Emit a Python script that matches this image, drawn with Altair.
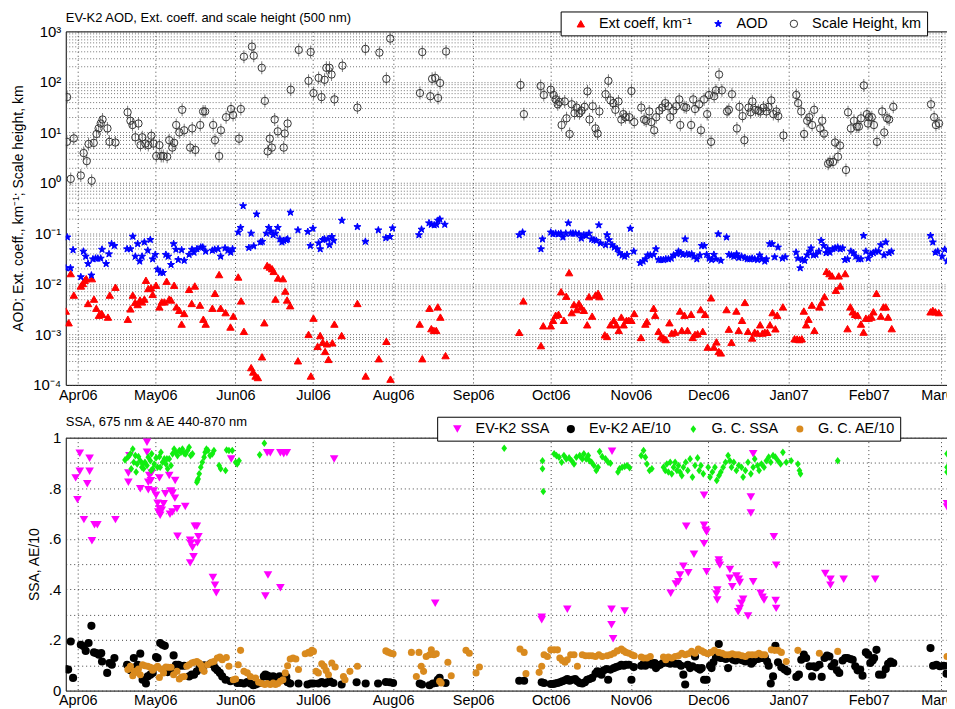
import altair as alt
import pandas as pd

FONT = "Liberation Sans"
BASE = pd.Timestamp("2006-04-01")

# ---------------- data (day offset from 2006-04-01, value) ----------------
SH = [(-4.1,50),(-4.2,6.5),(-2.7,1.2),(-1.5,7.6),(1.2,1.4),(2.3,3.9),(3.5,2.7),(4.2,5.9),(5.4,1.1),(6.2,6.2),
      (7.3,9.3),(8.1,12),(8.9,15),(9.6,18),(11.5,12),(12.3,6.5),(14.6,6.3),(19.3,25),(20.4,17),(21.2,14),
      (22.3,8),(23.5,15),(24.3,5.6),(25,8),(26.2,6),(27.3,5.6),(28.5,8.6),(29.3,6),(30.4,3.4),(31.6,5.6),
      (32.3,3.4),(33.1,3.4),(34.6,3.3),(35.4,7),(36.6,5),(37.3,6.2),(38.1,14),(39.3,10),(40.4,28),(41.2,11),
      (43.5,5),(44.3,12),(45.5,4.5),(47.4,14),(48.5,26),(49.3,26),(52.4,14),(53.1,7),(54.7,3.4),(55.4,11),
      (57.4,20),(59.3,29),(60.1,22),(62.4,7.5),(63.1,29),(64.3,315),(67.4,500),(68.1,330),(71.2,190),(72.4,42),
      (73.5,4.2),(74.3,7.5),(75.1,5),(76.2,18),(77.4,10.5),(79.7,5),(80.1,9.5),(81.2,15),(82.4,70),(85.5,430),
      (89.3,105),(90.1,390),(91.2,60),(93.2,120),(94.3,50),(95.5,110),(96.2,190),(97.4,190),(98.2,140),(99.3,45),
      (102.4,210),(108.2,31),(111.3,450),(116.7,380),(119.4,115),(120.9,720),(132.4,60),(133.3,390),(136.4,52),
      (137.1,115),(138.3,120),(139.4,48),(140.2,95),(142.5,400),
      (171.3,87),(172.6,23),(179.1,83),(180.3,55),(183,70),(184.1,55),(184.9,45),(185.7,36),(186.4,40),(187.2,14),
      (188.4,41),(189.1,19),(190.3,9.3),(191.1,36),(192.2,24),(193,31),(194.1,24),(194.9,27),(196.1,32),(197.2,65),
      (198,18),(199.2,33),(200.3,12),(201.1,9.5),(201.8,26),(204.2,57),(205.3,105),(206.1,43),(207.2,38),(208,28),
      (209.2,41),(210.3,18),(211.1,23),(211.9,20),(213.4,20),(214.2,66),(215.3,16),(218,31),(219.1,18),(219.9,17),
      (221.1,26),(221.9,16),(223,11),(223.8,20),(225,27),(226.1,31),(227.3,38),(228.4,33),(229.2,20),(230.4,27),
      (231.5,33),(232.7,45),(233.1,14),(234.6,32),(235.4,31),(237.3,14),(238.1,45),(238.8,29),(240.4,36),(241.1,11),
      (242.3,45),(243.5,23),(244.2,55),(245,6.5),(246.2,52),(246.9,68),(248.1,140),(249.2,68),(251.2,26),(251.9,28),
      (253.1,57),(255,12),(256,32),(257.2,21),(257.9,7),(259.5,31),(260.3,25),(261,41),(262.2,28),(263.3,27),
      (264.1,26),(265.3,31),(266.4,26),(267.2,32),(268.3,43),(269.1,23),(270.3,26),(271,21),(273,8.7),(278,55),
      (278.7,38),(279.9,26),(281,9.3),(282.2,17),(283,20),(284.1,14),(284.9,28),(287.2,12),(288,17),(288.7,9.5),
      (290.3,2.4),(291,2.6),(292.2,2.6),(293,6.3),(294.1,3.3),(294.9,5.5),(297.2,1.8),(298,25),(299.1,12),(300.3,17),
      (301.4,13),(302.2,13),(303,19),(304.1,85),(305.3,23),(305.7,15),(306.1,20),(307.2,20),(308,14),(309.2,6.5),
      (311.2,26),(312,10),(313.1,19),(313.9,18),(315.5,32),(330.1,36),(331.3,20),(332,14),(333.2,15)]

AOD = [(-4.6,.0206),(-4.0,.084),(-2.8,.0206),(-1.8,.047),(1.2,.0137),(2.2,.044),(3.1,.035),(4.0,.025),(5.3,.0148),
       (5.9,.031),(6.9,.032),(7.8,.032),(8.9,.032),(9.4,.048),(11.0,.025),(12.1,.039),(13.1,.062),(14.2,.057),
       (19.1,.049),(20.4,.049),(21.3,.087),(22.3,.035),(23.2,.062),(24.0,.028),(24.9,.035),(25.8,.067),(27.1,.046),
       (28.1,.075),(29.0,.031),(30.0,.038),(30.9,.0194),(32.0,.0167),(33.0,.0167),(34.1,.038),(35.0,.035),(36.1,.024),
       (37.1,.062),(38.0,.048),(38.9,.030),(40.2,.047),(41.2,.029),(43.1,.038),(44.2,.048),(45.0,.042),(46.1,.049),
       (47.6,.053),(48.4,.053),(49.5,.044),(52.1,.046),(53.0,.048),(54.3,.049),(55.3,.035),(57.0,.051),(58.1,.046),
       (59.2,.042),(59.9,.049),(62.1,.105),(63.0,.13),(64.0,.35),(66.2,.052),(67.1,.10),(68.1,.056),(69.2,.24),
       (70.7,.067),(71.4,.069),(73.0,.10),(73.9,.13),(74.8,.11),(75.6,.093),(76.5,.10),(77.4,.13),(78.2,.077),
       (79.0,.067),(79.7,.072),(80.7,.074),(81.2,.077),(82.3,.26),(85.2,.116),(89.0,.108),(90.0,.057),(91.0,.125),
       (93.2,.064),(93.8,.049),(94.8,.075),(95.5,.077),(96.8,.077),(97.4,.059),(98.3,.086),(99.0,.072),(102.2,.18),
       (108.2,.135),(111.3,.069),(116.3,.116),(119.2,.081),(120.8,.086),(121.8,.127),(132.0,.093),(133.0,.12),
       (135.9,.16),(136.8,.15),(137.9,.146),(138.8,.15),(139.4,.18),(140.1,.19),(142.0,.15),
       (170.8,.093),(172.1,.105),(179.2,.049),(179.8,.077),(183.0,.105),(183.9,.097),(184.9,.10),(186.0,.097),
       (186.9,.10),(187.7,.084),(188.8,.10),(189.8,.16),(190.7,.10),(191.6,.10),(192.6,.10),(193.9,.097),(194.8,.08),
       (195.8,.093),(196.7,.09),(197.8,.10),(198.8,.077),(199.7,.074),(200.6,.072),(201.6,.146),(202.2,.064),
       (204.2,.059),(204.8,.093),(205.5,.074),(206.7,.059),(207.6,.053),(208.7,.049),(209.6,.041),(210.6,.037),
       (211.6,.035),(212.5,.038),(213.8,.125),(215.1,.044),(217.6,.026),(218.7,.028),(219.6,.031),(220.5,.037),
       (221.5,.037),(222.8,.038),(223.7,.049),(224.7,.030),(225.6,.030),(226.6,.030),(227.5,.031),(228.5,.031),
       (229.6,.032),(230.5,.037),(231.8,.039),(232.4,.044),(233.3,.041),(234.1,.038),(235.0,.077),(235.6,.039),
       (236.5,.038),(237.5,.039),(238.4,.035),(239.5,.031),(240.7,.037),(241.4,.057),(242.4,.057),(243.3,.038),
       (244.3,.032),(245.2,.030),(246.1,.038),(246.9,.031),(247.8,.097),(248.8,.029),(251.0,.084),(251.9,.038),
       (252.9,.037),(253.8,.035),(254.9,.039),(255.7,.033),(256.8,.035),(258.1,.033),(259.0,.031),(260.0,.031),
       (260.9,.032),(261.9,.031),(263.0,.030),(263.8,.037),(264.7,.031),(265.8,.028),(266.4,.031),(267.7,.062),
       (268.6,.062),(269.6,.034),(270.9,.053),(272.6,.032),(273.7,.034),(277.9,.042),(278.6,.032),(279.5,.0206),
       (280.3,.030),(281.2,.029),(282.2,.037),(283.1,.044),(283.7,.051),(284.6,.037),(285.6,.038),(286.7,.044),
       (287.6,.072),(288.6,.057),(289.5,.041),(290.1,.049),(291.0,.042),(292.1,.049),(293.0,.051),(294.0,.053),
       (295.0,.049),(295.9,.051),(296.8,.030),(297.8,.031),(299.1,.044),(300.1,.041),(301.0,.035),(302.1,.031),
       (303.0,.031),(304.0,.09),(304.9,.044),(305.8,.032),(306.8,.039),(307.8,.041),(308.7,.044),(309.8,.044),
       (310.7,.059),(311.9,.037),(312.6,.067),(313.9,.041),(314.8,.044),(329.9,.09),(330.8,.067),(331.8,.042),
       (332.7,.044),(334.4,.035),(335.4,.048),(336.3,.028),(337.2,.029),(338.2,.030)]

EXT = [(-4.6,.0029),(-3.5,.0017),(-2.7,.016),(-1.5,.006),(1.2,.0091),(2.0,.0102),(2.7,.0118),(3.3,.0127),(4.0,.0041),
       (5.5,.0127),(6.3,.005),(7.2,.0033),(8.2,.0024),(9.1,.0026),(9.5,.0025),(11.7,.0022),(12.4,.006),(14.6,.0086),
       (19.4,.002),(20.4,.0032),(21.3,.006),(22.2,.0043),(23.2,.0039),(24.1,.0048),(24.9,.0044),(25.8,.005),
       (26.4,.0118),(27.3,.0081),(28.4,.0084),(29.0,.0062),(30.3,.0094),(31.6,.0035),(32.5,.0044),(33.5,.0044),
       (34.4,.0113),(35.4,.005),(36.1,.0048),(37.3,.0094),(38.2,.0035),(39.3,.003),(40.2,.0016),(41.2,.0026),
       (43.1,.0078),(44.1,.0041),(45.3,.0091),(47.3,.0038),(48.6,.002),(49.5,.0016),(52.1,.0033),(53.1,.0065),
       (54.7,.0153),(55.3,.0033),(57.2,.0027),(59.1,.0014),(60.2,.0023),(62.1,.0137),(63.2,.0046),(64.3,.00115),
       (67.1,.00022),(67.9,.00018),(68.8,.00015),(69.7,.00014),(72.2,.0017),(71.3,.00036),(73.3,.0232),(74.3,.0216),
       (75.2,.02),(75.8,.0177),(76.5,.005),(77.5,.0131),(79.4,.0127),(80.3,.0072),(81.0,.0048),(82.2,.0037),
       (85.2,.0003),(89.3,.001),(90.2,.00015),(91.2,.0021),(92.8,.00058),(93.8,.00095),(94.8,.0007),(95.7,.00046),
       (96.4,.00065),(97.0,.00032),(98.5,.00068),(99.3,.0016),(102.1,.00095),(108.2,.0041),(111.4,.00015),
       (116.5,.00033),(119.4,.00073),(121.0,.00013),(132.3,.0016),(133.3,.00033),(136.1,.0033),(136.8,.0013),
       (137.8,.0012),(138.7,.0012),(139.3,.0035),(140.3,.0022),(142.3,.00038),
       (170.8,.0011),(172.4,.0046),(179.2,.0006),(180.1,.00148),(183.0,.00148),(183.9,.0019),(184.9,.0024),
       (186.0,.0025),(187.0,.007),(188.1,.0019),(189.0,.0057),(190.1,.0167),(191.1,.0027),(192.0,.0039),(193.0,.0031),
       (193.9,.0041),(194.7,.0035),(195.8,.003),(197.1,.00155),(197.8,.0056),(199.0,.0023),(200.3,.006),(201.3,.0065),
       (201.9,.0056),(203.9,.00098),(204.8,.00091),(206.1,.00155),(207.4,.0019),(208.4,.00155),(209.3,.0012),
       (210.3,.0022),(211.2,.00155),(212.3,.0019),(213.2,.0019),(214.2,.0019),(215.3,.0026),(217.9,.00087),
       (219.6,.0016),(220.2,.0018),(222.8,.0033),(223.4,.0024),(224.7,.00115),(225.7,.00091),(226.6,.00085),
       (227.5,.00079),(228.9,.0017),(229.8,.00106),(231.1,.00111),(233.0,.0029),(233.7,.0012),(234.7,.0024),
       (235.9,.0012),(237.3,.0025),(237.9,.00087),(238.8,.001),(239.8,.00103),(241.0,.0031),(241.8,.00115),
       (242.7,.0025),(243.7,.00056),(245.0,.0053),(246.1,.00056),(247.1,.00071),(248.0,.00046),(248.8,.00043),
       (251.0,.0031),(251.9,.00127),(252.9,.0007),(254.8,.0029),(255.7,.0012),(257.0,.0019),(258.1,.0043),
       (259.3,.00115),(260.9,.00085),(261.9,.00111),(263.0,.00106),(264.0,.00155),(264.9,.00106),(265.8,.00111),
       (266.8,.0011),(267.8,.00155),(268.8,.0027),(269.9,.00129),(270.6,.0024),(272.8,.0035),(277.3,.00082),
       (278.3,.00081),(279.2,.00079),(280.1,.00082),(280.9,.0029),(281.8,.00155),(282.7,.002),(284.0,.0038),
       (285.0,.0012),(286.9,.0035),(287.8,.0043),(288.9,.0056),(289.7,.0177),(290.8,.016),(291.8,.0144),(293.3,.0075),
       (294.4,.0144),(295.0,.0091),(296.9,.016),(297.8,.0013),(298.9,.0035),(299.8,.0028),(300.7,.0025),(301.7,.0024),
       (303.0,.0016),(304.0,.00111),(304.9,.0021),(306.0,.0021),(307.1,.0022),(307.8,.0028),(309.0,.0065),
       (310.7,.0023),(311.7,.0035),(312.6,.0035),(313.5,.0022),(314.9,.0013),(329.9,.0028),(330.8,.003),
       (331.8,.0028),(333.1,.0027)]

SSA_EV = [(-0.8,.841),(-0.1,.755),(0.8,.867),(0.8,.938),(2.4,.676),(3.7,.818),(4.6,.867),(4.6,.919),(5.5,.592),
          (6.5,.656),(7.6,.656),(14.6,.676),(19.6,.86),(19.6,.824),(20.0,.929),(24.2,.798),(26.8,.982),(26.8,.942),
          (27.3,.824),(27.3,.794),(27.7,.85),(28.3,.83),(28.6,.86),(29.4,.789),(30.3,.772),(30.9,.741),(31.2,.706),
          (31.6,.719),(31.9,.693),(32.5,.713),(33.2,.739),(33.9,.778),(31.6,.841),(35.4,.85),(35.7,.697),(36.0,.789),
          (36.7,.706),(36.7,.781),(37.6,.761),(37.7,.831),(38.4,.719),(38.6,.61),(41.6,.728),(45.3,.65),(46.1,.65),
          (46.7,.608),(43.5,.594),(43.7,.581),(44.4,.566),(44.8,.529),(43.5,.505),(46.3,.584),(52.3,.447),(53.1,.417),
          (53.6,.387),(59.4,.916),(72.6,.374),(73.6,.457),(73.3,.94),(74.5,.94),(78.4,.407),(78.4,.94),(79.7,.936),
          (80.9,.94),(99.2,.916),(138.3,.345),
          (179.5,.29),(179.5,.28),(189.4,.322),(206.5,.322),(206.5,.26),(207.1,.205),(206.7,.946),(211.6,.315),
          (229.4,.385),(231.4,.421),(232.4,.43),(233.0,.457),(234.3,.492),(235.4,.65),(236.2,.466),(238.4,.539),
          (242.3,.772),(242.3,.654),(242.9,.634),(243.3,.627),(242.3,.581),(243.3,.47),(247.1,.382),(247.4,.398),
          (247.4,.358),(248.0,.516),(248.0,.505),(248.4,.496),(252.3,.479),(252.3,.444),(253.2,.411),(254.8,.453),
          (255.5,.312),(255.7,.44),(256.1,.427),(256.1,.325),(256.8,.345),(257.4,.361),(259.3,.295),(260.4,.765),
          (260.4,.702),(261.3,.936),(261.3,.43),(264.2,.385),(264.9,.369),(265.5,.358),(269.3,.608),(270.0,.356),
          (270.2,.496),(270.2,.325),(289.2,.463),(291.2,.44),(291.2,.417),(296.3,.44),(308.5,.44),(336.3,.739),
          (336.3,.726),(338.2,.575)]

AE_EV = [(-4.6,.085),(-3.7,.083),(-2.7,.194),(-1.8,.05),(1.2,.181),(2.3,.175),(3.1,.157),(4.2,.188),(5.3,.256),
         (6.3,.151),(7.2,.148),(8.2,.142),(9.1,.148),(9.4,.115),(11.4,.07),(12.3,.109),(13.2,.102),(14.2,.129),
         (19.1,.102),(20.4,.08),(21.7,.129),(22.3,.092),(23.2,.102),(24.2,.146),(25.1,.043),(26.4,.028),(27.1,.056),
         (28.1,.063),(29.0,.07),(30.3,.133),(30.9,.129),(31.9,.188),(32.8,.181),(33.7,.177),(34.8,.073),(36.1,.083),
         (37.1,.139),(38.0,.102),(38.9,.102),(39.9,.098),(41.2,.098),(43.1,.056),(44.1,.063),(45.0,.063),(46.1,.076),
         (47.2,.096),(48.9,.1),(51.4,.106),(52.5,.102),(53.1,.089),(54.0,.08),(55.0,.07),(55.9,.056),(57.2,.043),
         (59.1,.037),(61.7,.03),(63.0,.03),(64.3,.028),(65.6,.034),(66.8,.028),(67.9,.021),(68.8,.024),(69.7,.028),
         (70.7,.03),(72.0,.056),(72.6,.063),(73.3,.059),(73.9,.056),(74.5,.043),(75.6,.056),(76.5,.05),(77.4,.043),
         (78.1,.056),(79.0,.05),(79.7,.043),(80.7,.054),(81.2,.033),(82.2,.028),(85.4,.028),(88.9,.024),(90.2,.028),
         (91.2,.028),(93.1,.028),(94.4,.034),(95.7,.028),(96.6,.033),(97.6,.037),(98.9,.03),(102.1,.024),(107.9,.033),
         (111.4,.028),(116.2,.028),(119.2,.034),(120.7,.033),(122.0,.03),(132.3,.028),(133.2,.024),(136.1,.021),
         (137.4,.028),(138.7,.03),(139.3,.043),(140.0,.05),(142.3,.03),
         (170.8,.039),(172.7,.039),(179.5,.033),(180.4,.03),(183.0,.026),(183.9,.026),(184.7,.028),(185.6,.03),
         (186.5,.033),(187.5,.037),(188.5,.041),(189.4,.046),(190.3,.039),(191.3,.043),(192.4,.046),(193.3,.037),
         (194.2,.03),(195.2,.028),(196.2,.033),(197.1,.043),(198.0,.046),(199.0,.05),(200.3,.067),(201.0,.076),
         (201.6,.072),(202.6,.063),(203.5,.08),(204.6,.085),(205.2,.043),(206.1,.083),(207.4,.089),(208.3,.093),
         (209.3,.096),(210.3,.102),(211.2,.098),(212.1,.102),(213.2,.102),(214.2,.043),(215.1,.093),(218.0,.098),
         (218.9,.106),(219.6,.098),(220.5,.105),(221.5,.112),(222.1,.102),(223.2,.109),(223.7,.089),(224.4,.098),
         (225.3,.102),(226.4,.109),(227.3,.112),(228.3,.109),(229.2,.106),(230.2,.112),(231.1,.106),(232.4,.106),
         (233.4,.098),(234.3,.063),(235.0,.024),(236.0,.102),(236.9,.089),(237.8,.096),(238.8,.135),(239.8,.089),
         (240.7,.083),(241.4,.089),(242.3,.043),(243.3,.043),(244.6,.098),(245.2,.089),(245.9,.112),(246.9,.131),
         (247.5,.135),(248.0,.184),(248.7,.129),(249.7,.129),(250.7,.125),(251.6,.089),(252.7,.129),(253.6,.122),
         (254.5,.119),(255.5,.125),(256.5,.122),(257.4,.119),(258.3,.115),(259.3,.125),(260.6,.106),(261.3,.115),
         (261.9,.122),(263.2,.125),(264.5,.129),(265.8,.133),(266.7,.115),(267.3,.098),(268.1,.028),(269.0,.056),
         (269.9,.177),(270.9,.112),(272.2,.092),(273.5,.083),(274.5,.076),(278.0,.054),(279.0,.063),(279.9,.122),
         (280.9,.142),(281.8,.129),(283.1,.096),(284.1,.056),(284.7,.096),(285.6,.092),(286.9,.102),(287.8,.054),
         (288.9,.129),(289.9,.138),(290.8,.135),(291.7,.096),(292.7,.109),(293.7,.08),(294.6,.07),(295.9,.119),
         (296.9,.129),(297.8,.129),(298.9,.125),(299.8,.122),(300.8,.096),(301.7,.08),(302.7,.083),(303.6,.059),
         (304.9,.151),(305.8,.142),(306.6,.109),(307.5,.119),(308.1,.129),(309.0,.161),(310.0,.063),(311.3,.063),
         (312.6,.085),(313.5,.106),(314.5,.115),(315.5,.109),(329.9,.168),(330.9,.098),(332.2,.102),(333.5,.096),
         (335.0,.098),(336.1,.067),(337.0,.098),(338.2,.125),(339.5,.142)]

SSA_GC = [(18.3,.912),(19.4,.923),(20.4,.936),(21.3,.955),(21.7,.903),(22.3,.929),(23.0,.896),(23.5,.925),(24.2,.909),
          (24.8,.883),(25.5,.877),(26.0,.903),(26.8,.89),(27.3,.923),(28.1,.909),(28.6,.936),(29.0,.877),(29.6,.896),
          (30.3,.92),(30.9,.883),(31.6,.925),(32.2,.942),(32.8,.903),(33.5,.916),(34.1,.896),(34.8,.877),(35.4,.916),
          (36.1,.89),(36.7,.936),(37.3,.955),(38.0,.942),(38.6,.929),(39.3,.949),(39.9,.942),(40.5,.955),(41.2,.938),
          (41.8,.936),(42.5,.949),(43.1,.962),(43.7,.929),(44.4,.936),(46.1,.824),(46.6,.837),(47.0,.857),(47.6,.883),
          (48.2,.903),(48.9,.923),(49.3,.942),(49.8,.955),(50.4,.949),(51.2,.929),(52.1,.936),(52.7,.949),(54.7,.89),
          (55.3,.877),(57.2,.87),(57.6,.951),(58.5,.949),(59.8,.949),(61.1,.903),(61.7,.896),(62.4,.909),(70.4,.932),
          (72.2,.978),(20.7,.877),(22.6,.864),(25.1,.896),(28.4,.87),(31.9,.883),(34.5,.916),(46.3,.831),
          (165.0,.958),(179.8,.909),(179.8,.877),(180.1,.787),(184.3,.936),(185.2,.929),(186.2,.923),(187.2,.903),
          (188.1,.929),(189.0,.916),(190.1,.92),(191.1,.909),(192.0,.896),(192.9,.923),(194.2,.929),(195.2,.916),
          (195.8,.936),(196.7,.916),(197.5,.929),(198.0,.909),(198.8,.903),(199.7,.89),(200.6,.87),(201.3,.883),
          (201.9,.945),(202.9,.925),(204.2,.916),(205.2,.903),(206.1,.899),(209.0,.864),(209.6,.877),(210.6,.883),
          (211.6,.886),(212.5,.89),(213.5,.881),(218.0,.929),(218.9,.949),(219.6,.923),(220.2,.896),(221.2,.87),
          (222.1,.877),(226.6,.883),(227.3,.87),(227.9,.896),(228.5,.864),(229.2,.903),(229.8,.857),(230.5,.883),
          (231.1,.903),(231.8,.87),(232.4,.89),(233.0,.864),(233.7,.85),(234.3,.883),(235.2,.903),(236.0,.87),
          (236.9,.916),(237.8,.844),(238.8,.89),(239.8,.92),(240.4,.87),(241.1,.89),(242.0,.857),(243.9,.883),
          (244.6,.844),(245.5,.864),(246.5,.883),(247.2,.831),(248.1,.85),(248.8,.864),(249.7,.883),(250.6,.903),
          (251.6,.929),(252.3,.909),(252.9,.883),(253.8,.903),(254.8,.87),(255.7,.89),(256.8,.883),(257.4,.844),
          (258.3,.87),(259.3,.903),(260.4,.857),(261.3,.883),(261.9,.916),(263.0,.89),(263.6,.87),(264.5,.896),
          (265.5,.883),(266.4,.909),(267.3,.923),(268.1,.903),(269.0,.929),(269.9,.923),(270.9,.909),(271.9,.896),
          (272.8,.942),(274.1,.903),(276.0,.909),(278.6,.896),(279.2,.87),(279.6,.857),(294.0,.909),(336.3,.936),
          (336.3,.883),(336.3,.864),(338.9,.903)]

AE_GC = [(19.4,.083),(20.4,.096),(21.3,.059),(21.9,.076),(22.6,.072),(23.5,.085),(24.2,.063),(25.1,.102),(26.0,.098),
         (27.1,.096),(28.1,.092),(29.0,.08),(29.9,.089),(30.9,.096),(31.6,.052),(32.2,.085),(33.2,.07),(34.1,.093),
         (35.0,.092),(36.1,.092),(37.1,.063),(38.4,.076),(39.3,.046),(40.2,.054),(41.2,.056),(42.2,.096),(43.1,.102),
         (44.1,.109),(45.0,.112),(46.1,.115),(47.0,.109),(47.6,.102),(48.2,.085),(48.9,.076),(50.2,.102),(51.7,.112),
         (52.7,.115),(54.0,.129),(55.0,.133),(55.9,.122),(57.5,.131),(58.5,.096),(60.2,.043),(61.1,.046),(62.1,.102),
         (63.0,.159),(64.3,.076),(65.6,.07),(66.8,.056),(68.8,.05),(70.0,.033),(71.3,.028),(72.4,.024),(73.3,.028),
         (74.5,.024),(75.6,.03),(76.5,.024),(77.4,.028),(78.4,.037),(79.4,.043),(80.3,.07),(81.2,.098),(82.2,.125),
         (83.3,.129),(84.4,.125),(85.4,.083),(88.0,.146),(89.3,.151),(89.9,.148),(90.6,.159),(91.2,.155),(92.2,.076),
         (93.1,.07),(94.4,.106),(95.3,.096),(96.1,.079),(97.0,.063),(98.3,.109),(99.6,.093),(102.8,.056),(103.4,.043),
         (105.3,.076),(108.2,.096),(119.2,.157),(120.1,.152),(121.1,.148),(122.0,.146),(129.1,.151),(131.0,.056),
         (132.0,.151),(132.9,.096),(133.8,.076),(134.8,.135),(136.1,.142),(136.8,.161),(137.8,.142),(138.7,.146),
         (140.0,.037),(140.6,.03),(143.2,.112),(144.5,.059),(150.2,.159),(151.5,.148),(154.1,.07),(155.4,.093),
         (171.1,.164),(172.7,.151),(173.4,.067),(178.5,.072),(179.5,.096),(180.4,.142),(181.7,.135),(183.0,.161),
         (184.3,.161),(185.6,.161),(186.5,.129),(187.5,.119),(188.5,.112),(189.4,.122),(190.7,.142),(192.0,.142),
         (193.3,.096),(195.2,.142),(196.5,.138),(197.8,.138),(199.0,.138),(200.3,.135),(201.6,.142),(202.9,.135),
         (204.8,.138),(206.1,.142),(207.4,.148),(208.7,.157),(210.3,.164),(211.2,.157),(212.1,.151),(213.2,.148),
         (214.4,.142),(215.3,.138),(218.0,.133),(218.9,.129),(220.2,.129),(221.5,.135),(226.6,.133),(227.5,.122),
         (228.5,.133),(229.8,.129),(231.1,.135),(232.4,.138),(233.7,.148),(235.0,.142),(236.2,.146),(237.5,.155),
         (238.8,.148),(240.1,.164),(241.4,.157),(242.4,.151),(243.7,.146),(245.0,.151),(246.3,.159),(248.0,.151),
         (249.3,.148),(250.6,.142),(251.9,.142),(253.2,.146),(254.5,.142),(255.7,.142),(257.0,.138),(258.3,.135),
         (259.6,.142),(260.9,.142),(262.2,.142),(263.5,.148),(264.7,.142),(265.8,.142),(268.3,.161),(269.6,.159),
         (270.9,.159),(272.2,.151),(274.1,.115),(278.6,.159),(286.9,.148),(294.0,.155),(336.3,.135),(337.6,.115),
         (338.9,.063)]

TOP_SERIES = ["Ext coeff, km\u207b\u00b9", "AOD", "Scale Height, km"]
BOT_SERIES = ["EV-K2 SSA", "Ev-K2 AE/10", "G. C. SSA", "G. C. AE/10"]
MONTHS = [(2006, m) for m in range(4, 13)] + [(2007, m) for m in range(1, 4)]
DECADE_LABELS = {-4: "10\u207b\u2074", -3: "10\u207b\u00b3", -2: "10\u207b\u00b2", -1: "10\u207b\u00b9",
                 0: "10\u2070", 1: "10\u00b9", 2: "10\u00b2", 3: "10\u00b3"}


def frame(points, name, field):
    df = pd.DataFrame(points, columns=["day", "val"])
    df["date"] = BASE + pd.to_timedelta(df["day"], unit="D")
    df[field] = name
    return df[["date", "val", field]]


top_df = pd.concat([frame(EXT, TOP_SERIES[0], "series"), frame(AOD, TOP_SERIES[1], "series"),
                    frame(SH, TOP_SERIES[2], "series")], ignore_index=True)
sh_df = frame(SH, TOP_SERIES[2], "series")
bot_df = pd.concat([frame(SSA_EV, BOT_SERIES[0], "kind"), frame(AE_EV, BOT_SERIES[1], "kind"),
                    frame(SSA_GC, BOT_SERIES[2], "kind"), frame(AE_GC, BOT_SERIES[3], "kind")], ignore_index=True)

# ---------------- axes ----------------
x_scale = alt.Scale(domain=[alt.DateTime(year=2006, month=3, date=27, hours=9),
                            alt.DateTime(year=2007, month=3, date=3, hours=16)])


def x_enc(pad):
    ax = alt.Axis(values=[alt.DateTime(year=y, month=m, date=1) for y, m in MONTHS], format="%b%y",
                  labelFontSize=14.5, labelPadding=pad, grid=True, gridDash=[1, 3], gridColor="#444",
                  ticks=False, domain=False, labelFlush=False)
    return alt.X("date:T", scale=x_scale, axis=ax, title=None)


minor = [m * 10.0 ** k for k in range(-4, 3) for m in range(1, 10)] + [1000.0]
LE = "round(log(datum.value)/LN10)"
chain = " : ".join(f"{LE} == {k} ? '{v}'" for k, v in DECADE_LABELS.items())
top_label_expr = f"abs(log(datum.value)/LN10 - {LE}) < 0.001 ? ({chain} : '') : ''"
y_top_axis = alt.Axis(values=minor, labelExpr=top_label_expr, labelFontSize=15, grid=True, gridDash=[1, 2],
                      gridColor="#555", gridWidth=0.8, ticks=False, domain=False, labelPadding=5,
                      title="AOD; Ext. coeff., km\u207b\u00b9; Scale height, km", titleFontSize=14,
                      titlePadding=7, titleFontWeight="normal")

bot_vals = [round(i * 0.1, 1) for i in range(11)]
bot_label_expr = ("datum.value == 0 ? '0' : datum.value == 1 ? '1' : "
                  "(round(datum.value*10) % 2 == 0 ? replace(format(datum.value, '.1f'), '0.', '.') : '')")
y_bot_axis = alt.Axis(values=bot_vals, labelExpr=bot_label_expr, labelFontSize=15, grid=True, gridDash=[1, 3],
                      gridColor="#444", ticks=False, domain=False, labelPadding=5, title="SSA, AE/10",
                      titleFontSize=14, titlePadding=7, titleFontWeight="normal")


# ---------------- legends ----------------
def legend(x, y, colpad):
    return alt.Legend(orient="none", legendX=x, legendY=y, direction="horizontal", title=None,
                      fillColor="white", strokeColor="black", padding=5, labelFontSize=14.5, labelFont=FONT,
                      labelOffset=11, columnPadding=colpad, symbolStrokeWidth=1, symbolOffset=8)


STAR = ("M0,-1L0.235,-0.324L0.951,-0.309L0.38,0.124L0.588,0.809L0,0.4L-0.588,0.809"
        "L-0.38,0.124L-0.951,-0.309L-0.235,-0.324Z")
DIAMOND = "M0,-1L0.75,0L0,1L-0.75,0Z"

lt = legend(497, -20, 11)
X_top = x_enc(4)
Y_top = alt.Y("val:Q", scale=alt.Scale(type="log", domain=[1e-4, 1e3]), axis=y_top_axis)
top_pts = alt.Chart(top_df).mark_point(filled=True, opacity=1, strokeWidth=1, clip=True).encode(
    x=X_top, y=Y_top,
    shape=alt.Shape("series:N", scale=alt.Scale(domain=TOP_SERIES, range=["triangle-up", STAR, "circle"]),
                    legend=lt),
    fill=alt.Fill("series:N", scale=alt.Scale(domain=TOP_SERIES, range=["#ff0000", "#0000ff", "transparent"]),
                  legend=lt),
    stroke=alt.Stroke("series:N", scale=alt.Scale(domain=TOP_SERIES, range=["#ff0000", "#0000ff", "#333333"]),
                      legend=lt),
    size=alt.Size("series:N", scale=alt.Scale(domain=TOP_SERIES, range=[55, 55, 36]), legend=lt),
)
sh_bars = alt.Chart(sh_df).mark_tick(orient="vertical", size=13, thickness=1, color="#444", clip=True).encode(
    x=X_top, y=Y_top)

top = alt.layer(sh_bars, top_pts).properties(
    width=886, height=355,
    title=alt.TitleParams("EV-K2 AOD, Ext. coeff. and scale height (500 nm)", anchor="start", fontSize=13,
                          fontWeight="normal", font=FONT, offset=-14, frame="group"))

lb = legend(373, -21, 6)
bottom = alt.Chart(bot_df).mark_point(filled=True, opacity=1, strokeWidth=0, clip=True).encode(
    x=x_enc(3),
    y=alt.Y("val:Q", scale=alt.Scale(domain=[0, 1]), axis=y_bot_axis),
    shape=alt.Shape("kind:N", scale=alt.Scale(domain=BOT_SERIES,
                                              range=["triangle-down", "circle", DIAMOND, "circle"]), legend=lb),
    fill=alt.Fill("kind:N", scale=alt.Scale(domain=BOT_SERIES,
                                            range=["#ff00ff", "#000000", "#11ee11", "#d98a1e"]), legend=lb),
    size=alt.Size("kind:N", scale=alt.Scale(domain=BOT_SERIES, range=[75, 50, 85, 30]), legend=lb),
).properties(
    width=886, height=254,
    title=alt.TitleParams("SSA, 675 nm & AE 440-870 nm", anchor="start", fontSize=13, fontWeight="normal",
                          font=FONT, offset=-13, frame="group"))

chart = alt.vconcat(top, bottom, spacing=13).resolve_scale(
    shape="independent", fill="independent", stroke="independent", size="independent"
).properties(
    padding={"left": 3, "top": 1, "right": -16, "bottom": 0}
).configure(font=FONT).configure_view(stroke="black", strokeWidth=1).configure_axis(
    labelFont=FONT, titleFont=FONT, labelColor="black", titleColor="black"
)

chart.save("out.html", embed_options={"renderer": "svg", "actions": False})
